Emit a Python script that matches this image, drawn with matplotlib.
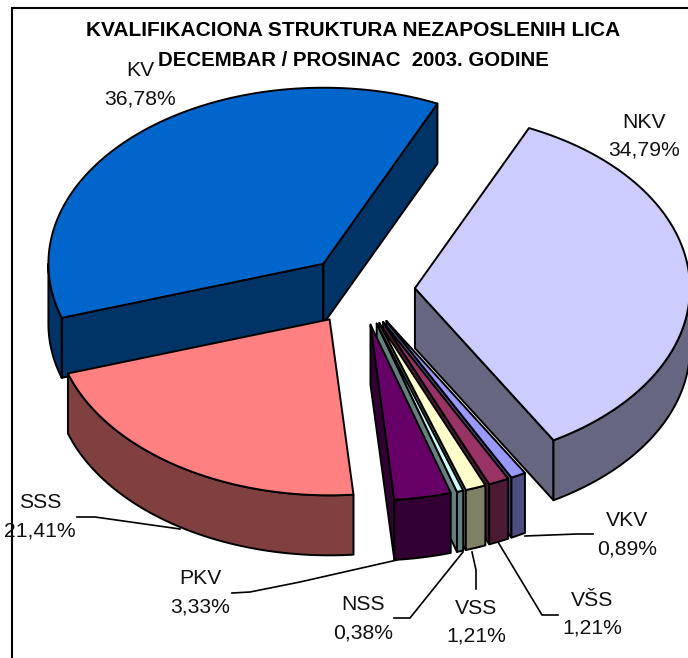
import numpy as np
import matplotlib
matplotlib.use('Agg')
import matplotlib.pyplot as plt
from matplotlib.patches import Polygon

plt.rcParams['font.family'] = ['Liberation Sans', 'DejaVu Sans']

# Slices clockwise, starting from NKV
labels = ['NKV', 'VKV', 'VŠS', 'VSS', 'NSS', 'PKV', 'SSS', 'KV']
values = [34.79, 0.89, 1.21, 1.21, 0.38, 3.33, 21.41, 36.78]
pct_text = ['34,79%', '0,89%', '1,21%', '1,21%', '0,38%', '3,33%', '21,41%', '36,78%']
top_colors = ['#CCCCFF', '#9999FF', '#993366', '#FFFFCC', '#CCFFFF', '#660066', '#FF8080', '#0066CC']
side_colors = ['#666680', '#4D4D80', '#4D1A33', '#808066', '#668080', '#330033', '#804040', '#003366']

title_lines = ['KVALIFIKACIONA STRUKTURA NEZAPOSLENIH LICA',
               'DECEMBAR / PROSINAC  2003. GODINE']

# label centre (x, y) in pixels
label_pos = {'NKV': (644, 136), 'VKV': (627, 535), 'VŠS': (592, 614), 'VSS': (476, 622),
             'NSS': (363, 619), 'PKV': (200, 593), 'SSS': (40, 517), 'KV': (140, 85)}

# leader lines
leaders = [[(525, 536), (577, 534), (593, 534)],
           [(498, 542), (542, 615), (558, 615)],
           [(472, 552), (476, 570), (476, 589)],
           [(463, 552), (410, 618), (394, 618)],
           [(397, 560), (300, 582), (250, 592), (232, 593)],
           [(180, 529), (95, 517), (77, 517)]]

# pie geometry, in pixels of the picture
cx, cy = 360, 290
a, b = 275, 176
depth = 60
explode = 0.2
start_angle = 24.5
# back to front, the narrow slices from right to left so each top hides its neighbour's cut face
draw_order = ['KV', 'SSS', 'VKV', 'VŠS', 'VSS', 'NSS', 'PKV', 'NKV']

fig = plt.figure(figsize=(6.88, 6.58), dpi=100)
ax = fig.add_axes([0, 0, 1, 1])
ax.set_xlim(0, 688)
ax.set_ylim(658, 0)
ax.axis('off')


def pt(x0, y0, deg):
    t = np.radians(deg)
    return x0 + a * np.sin(t), y0 - b * np.cos(t)


edges = start_angle + np.concatenate([[0], np.cumsum(values)]) * 3.6
EDGE = dict(edgecolor='black', linewidth=1.4, joinstyle='round')

for name in draw_order:
    i = labels.index(name)
    th0, th1 = edges[i], edges[i + 1]
    mid = (th0 + th1) / 2
    t = np.radians(mid)
    ox = cx + explode * a * np.sin(t)
    oy = cy - explode * b * np.cos(t)

    # cut faces, only the ones turned towards the viewer
    for th, visible in [(th0, np.sin(np.radians(th0)) < 0), (th1, np.sin(np.radians(th1)) > 0)]:
        if visible:
            x1, y1 = pt(ox, oy, th)
            ax.add_patch(Polygon([(ox, oy), (x1, y1), (x1, y1 + depth), (ox, oy + depth)],
                                 facecolor=side_colors[i], **EDGE))

    # outer rim, front half of the ellipse
    lo, hi = max(th0, 90), min(th1, 270)
    if hi > lo:
        arc = np.linspace(lo, hi, 80)
        xs, ys = pt(ox, oy, arc)
        rim = np.vstack([np.c_[xs, ys], np.c_[xs, ys + depth][::-1]])
        ax.add_patch(Polygon(rim, facecolor=side_colors[i], **EDGE))

    # top
    arc = np.linspace(th0, th1, 120)
    xs, ys = pt(ox, oy, arc)
    ax.add_patch(Polygon(np.vstack([[ox, oy], np.c_[xs, ys]]), facecolor=top_colors[i], **EDGE))

# chart border, only top and left are inside the picture
ax.plot([12, 12, 688], [658, 8, 8], color='black', lw=1.5, solid_joinstyle='miter', clip_on=False)

for seg in leaders:
    seg = np.array(seg)
    ax.plot(seg[:, 0], seg[:, 1], color='black', lw=1.2)

for lab, pct in zip(labels, pct_text):
    x, y = label_pos[lab]
    ax.text(x, y - 14, lab, ha='center', va='center', fontsize=15.2, color='#111111')
    ax.text(x, y + 14, pct, ha='center', va='center', fontsize=15.2, color='#111111')

ax.text(353.5, 31, title_lines[0], ha='center', va='center', fontsize=15.05, fontweight='bold')
ax.text(353.5, 60, title_lines[1], ha='center', va='center', fontsize=14.7, fontweight='bold')

fig.savefig('out.png', dpi=100)
